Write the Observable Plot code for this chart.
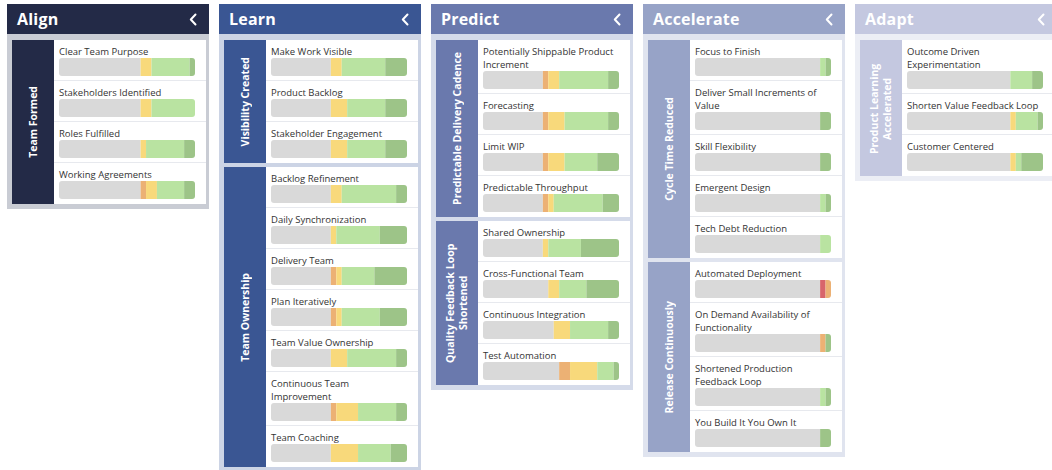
<!DOCTYPE html>
<html><head><meta charset="utf-8">
<script src="https://cdn.jsdelivr.net/npm/d3@7"></script>
<script src="https://cdn.jsdelivr.net/npm/@observablehq/plot@0.6"></script>
<style>
html,body{margin:0;padding:0;background:#fff;width:1052px;height:470px;overflow:hidden;font-family:"Open Sans",sans-serif;}
#board{display:flex;gap:10px;padding:4px 0 0 7px;align-items:flex-start;width:1200px;}
.col{width:202px;flex:none;}
.head{height:30px;color:#fff;font-weight:700;font-size:16px;line-height:30px;padding-left:10px;position:relative;letter-spacing:0.2px;}
.head svg{position:absolute;right:12px;top:9px;}
.body{padding:6px 3px 5px 5px;display:flex;flex-direction:column;gap:4px;}
.group{display:flex;}
.side{width:42px;flex:none;display:flex;align-items:center;justify-content:center;}
.side span{display:block;writing-mode:vertical-rl;transform:rotate(180deg);color:#fff;font-weight:700;font-size:10.5px;line-height:13px;text-align:center;}
.items{flex:1;background:#fff;}
.row{padding:5px 11px 4px 5px;border-bottom:1px solid #e7e9ee;}
.row:last-child{border-bottom:none;padding-bottom:5px;}
.label{font-size:9.5px;line-height:13px;color:#333;width:136px;}
.bar{width:136px;height:18px;border-radius:3px;overflow:hidden;}
.bar svg{display:block;}
</style>
</head><body>
<div id="board"></div>
<script>
const stages = ["Align","Learn","Predict","Accelerate","Adapt"];
const outcomes = ["Team Formed","Visibility Created","Team Ownership","Predictable Delivery Cadence","Quality Feedback Loop Shortened","Cycle Time Reduced","Release Continuously","Product Learning Accelerated"];
const outcomeStage = ["Align","Learn","Learn","Predict","Predict","Accelerate","Accelerate","Adapt"];
const practices = [
 "Clear Team Purpose","Stakeholders Identified","Roles Fulfilled","Working Agreements",
 "Make Work Visible","Product Backlog","Stakeholder Engagement",
 "Backlog Refinement","Daily Synchronization","Delivery Team","Plan Iteratively","Team Value Ownership","Continuous Team Improvement","Team Coaching",
 "Potentially Shippable Product Increment","Forecasting","Limit WIP","Predictable Throughput",
 "Shared Ownership","Cross-Functional Team","Continuous Integration","Test Automation",
 "Focus to Finish","Deliver Small Increments of Value","Skill Flexibility","Emergent Design","Tech Debt Reduction",
 "Automated Deployment","On Demand Availability of Functionality","Shortened Production Feedback Loop","You Build It You Own It",
 "Outcome Driven Experimentation","Shorten Value Feedback Loop","Customer Centered"
];
const practiceOutcome = [
 "Team Formed","Team Formed","Team Formed","Team Formed",
 "Visibility Created","Visibility Created","Visibility Created",
 "Team Ownership","Team Ownership","Team Ownership","Team Ownership","Team Ownership","Team Ownership","Team Ownership",
 "Predictable Delivery Cadence","Predictable Delivery Cadence","Predictable Delivery Cadence","Predictable Delivery Cadence",
 "Quality Feedback Loop Shortened","Quality Feedback Loop Shortened","Quality Feedback Loop Shortened","Quality Feedback Loop Shortened",
 "Cycle Time Reduced","Cycle Time Reduced","Cycle Time Reduced","Cycle Time Reduced","Cycle Time Reduced",
 "Release Continuously","Release Continuously","Release Continuously","Release Continuously",
 "Product Learning Accelerated","Product Learning Accelerated","Product Learning Accelerated"
];
const levels = ["Not assessed","Critical","Low","Medium","High","Very high"];
const notAssessed = [15,15,15,15, 11,11,11, 11,11,11,11,11,11,11, 11,11,11,11, 11,12,13,14, 23,23,23,23,23, 23,23,23,23, 19,19,19];
const critical    = [0,0,0,0, 0,0,0, 0,0,0,0,0,0,0, 0,0,0,0, 0,0,0,0, 0,0,0,0,0, 1,0,0,0, 0,0,0];
const low         = [0,0,0,1, 0,0,0, 0,0,1,1,0,1,0, 1,1,1,1, 0,0,0,2, 0,0,0,0,0, 1,1,0,0, 0,0,0];
const medium      = [2,2,1,2, 2,3,3, 2,1,1,1,3,4,5, 2,3,3,1, 1,2,3,5, 0,0,0,0,0, 0,0,0,0, 0,1,1];
const high        = [7,8,7,5, 8,7,7, 10,8,6,7,9,7,6, 9,8,6,9, 6,5,7,3, 1,0,0,1,2, 0,0,1,0, 4,4,1];
const veryHigh    = [1,0,2,2, 4,4,4, 2,5,6,5,2,2,3, 2,2,4,3, 7,6,2,1, 1,2,2,1,0, 0,1,1,2, 2,1,4];
const series = [notAssessed, critical, low, medium, high, veryHigh];

const levelColors = ["#d9d9d9","#d8656b","#ecb174","#f8d97b","#b9e3a1","#9dc488"];
const stageStyle = {
  Align:{head:"#232a47", panel:"#c9ccd4"},
  Learn:{head:"#3a5693", panel:"#ccd4e5"},
  Predict:{head:"#6a79ad", panel:"#d5dbea"},
  Accelerate:{head:"#97a3c7", panel:"#e0e4ef"},
  Adapt:{head:"#c4c8e0", panel:"#eceef5"}
};

const board = document.getElementById("board");
const el = (tag, cls, parent) => { const e = document.createElement(tag); if (cls) e.className = cls; if (parent) parent.appendChild(e); return e; };
const sideLabels = [];

stages.forEach(stage => {
  const st = stageStyle[stage];
  const col = el("div","col",board);
  const head = el("div","head",col);
  head.style.background = st.head;
  head.appendChild(document.createTextNode(stage));
  head.insertAdjacentHTML("beforeend",'<svg width="8" height="13"><polyline points="6.5,1.5 1.8,6.5 6.5,11.5" fill="none" stroke="#fff" stroke-width="2" stroke-linecap="round" stroke-linejoin="round"/></svg>');
  const body = el("div","body",col);
  body.style.background = st.panel;
  outcomes.forEach((oc, oi) => {
    if (outcomeStage[oi] !== stage) return;
    const g = el("div","group",body);
    const side = el("div","side",g);
    side.style.background = st.head;
    const sp = el("span",null,side);
    sp.textContent = oc;
    sideLabels.push([g, sp]);
    const items = el("div","items",g);
    practices.forEach((p, i) => {
      if (practiceOutcome[i] !== oc) return;
      const row = el("div","row",items);
      el("div","label",row).textContent = p;
      const data = levels.map((l, j) => ({level:l, value:series[j][i]})).filter(d => d.value > 0);
      const chart = Plot.plot({
        width:136, height:18, margin:0,
        x:{axis:null, domain:[0, d3.sum(data, d => d.value)]},
        color:{domain:levels, range:levelColors},
        marks:[Plot.barX(data, {x:"value", fill:"level"})]
      });
      el("div","bar",row).appendChild(chart);
    });
  });
});
sideLabels.forEach(([g, sp]) => { sp.style.maxHeight = (g.offsetHeight - 20) + "px"; });
</script>
</body></html>
